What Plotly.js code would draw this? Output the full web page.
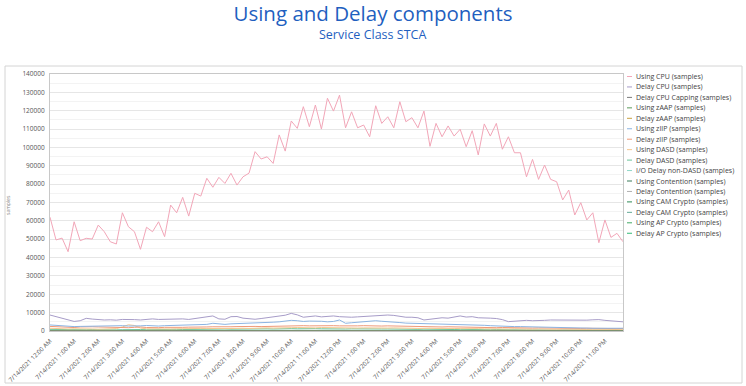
<!DOCTYPE html>
<html>
<head>
<meta charset="utf-8">
<script src="https://cdn.plot.ly/plotly-3.0.1.min.js"></script>
<style>html,body{margin:0;padding:0;background:#fff;}#chart{width:746px;height:386px;}</style>
</head>
<body>
<div id="chart"></div>
<script>
// ---- data (15-minute samples, 7/14/2021) ----
var seriesNames = [
  "Using CPU (samples)", "Delay CPU (samples)", "Delay CPU Capping (samples)",
  "Using zAAP (samples)", "Delay zAAP (samples)", "Using zIIP (samples)",
  "Delay zIIP (samples)", "Using DASD (samples)", "Delay DASD (samples)",
  "I/O Delay non-DASD (samples)", "Using Contention (samples)", "Delay Contention (samples)",
  "Using CAM Crypto (samples)", "Delay CAM Crypto (samples)", "Using AP Crypto (samples)",
  "Delay AP Crypto (samples)"
];
var seriesColors = [
  "#f2a6b8", "#a79cc8", "#7a7a7a", "#5a9a5a", "#c8a040", "#8cb4e2",
  "#f09a78", "#f4c890", "#6cc49a", "#90d8c8", "#3a7a5a", "#b0b0b0",
  "#2e8b57", "#66aa99", "#44aa66", "#33bb77"
];

var usingCPU = [
  62000, 49600, 50600, 43200, 59500, 49200, 50500, 50100,
  57700, 54100, 48600, 47400, 64400, 56800, 54100, 44500,
  56500, 54100, 59500, 51400, 68600, 64400, 72800, 62600,
  75000, 73500, 83200, 78300, 83700, 80400, 85900, 79500,
  84000, 86000, 97700, 93700, 94900, 91300, 106800, 98000,
  114400, 110400, 122200, 111300, 123100, 110000, 126800, 119800,
  128500, 110700, 119400, 110700, 112200, 105800, 122700, 113100,
  116700, 110700, 124900, 114000, 116200, 110700, 119800, 100600,
  113100, 105800, 111700, 106200, 109900, 100400, 109100, 95900,
  112800, 106200, 113100, 99000, 105800, 97100, 97100, 84000,
  93500, 82600, 90400, 82600, 81300, 71400, 76800, 63200,
  69900, 60500, 64400, 48100, 60500, 51000, 53200, 48600
];
var delayCPU = [
  8700, 7800, 6900, 6200, 5200, 5600, 6900, 6500,
  6200, 6000, 6100, 5900, 6300, 6400, 6200, 6000,
  6400, 6600, 6300, 6400, 6200, 6500, 6600, 6300,
  6800, 7200, 7500, 8200, 6600, 6400, 7800, 7900,
  7000, 6500, 6400, 6800, 7200, 7600, 8000, 8600,
  9600, 8800, 7500, 7900, 8200, 7700, 8000, 8200,
  7800, 7600, 7500, 7700, 7900, 8200, 8000, 8300,
  8700, 8500, 7800, 7500, 7500, 7200, 6000, 6500,
  6800, 7200, 7000, 7400, 8200, 7600, 7800, 7200,
  6900, 7000, 6800, 6200, 5100, 5400, 5600, 5800,
  5600, 5500, 5800, 6000, 6000, 5800, 5600, 5700,
  6000, 5900, 6100, 6200, 5800, 5600, 5200, 5000
];
var usingZIIP = [
  3300, 3000, 2600, 2400, 2400, 2500, 2600, 2500,
  2500, 2600, 2700, 2800, 2900, 2700, 2600, 2800,
  3000, 2800, 2700, 2900, 3000, 3100, 3000, 3200,
  3300, 3400, 3600, 4200, 3800, 3600, 3900, 4000,
  4100, 4000, 4300, 4500, 4600, 4800, 5000, 5300,
  5800, 5600, 5200, 5400, 5500, 5300, 5000, 5200,
  6000, 4200, 4500, 4700, 5000, 5400, 5600, 5300,
  5200, 5000, 4600, 4300, 4200, 4400, 4000, 3900,
  4100, 3800, 3600, 3700, 3800, 3700, 3500, 3300,
  3100, 2900, 2700, 2600, 2500, 2400, 2400, 2300,
  2200, 2100, 2000, 1900, 1800, 1700, 1700, 1600,
  1600, 1500, 1500, 1500, 1500, 1400, 1400, 1500
];
var delayZIIP = [
  2500, 2300, 2100, 2000, 1900, 2200, 2400, 2300,
  2200, 2100, 2300, 2200, 2000, 1800, 2000, 2200,
  1900, 1700, 1800, 2000, 1900, 1800, 2000, 2100,
  2000, 2100, 2200, 2300, 2200, 2100, 2300, 2400,
  2300, 2400, 2500, 2400, 2500, 2600, 2700, 2800,
  3000, 3100, 2900, 2800, 2900, 2800, 2700, 2900,
  2800, 2700, 2600, 2800, 2900, 2700, 2600, 2700,
  2800, 2700, 2600, 2500, 2600, 2400, 2300, 2400,
  2300, 2200, 2300, 2200, 2100, 2200, 2000, 1900,
  2000, 1900, 1800, 1900, 1800, 1700, 1800, 1700,
  1600, 1700, 1600, 1500, 1600, 1500, 1400, 1500,
  1400, 1500, 1400, 1300, 1400, 1300, 1300, 1400
];
var usingDASD = [
  1500, 1300, 1200, 1100, 1200, 1300, 1200, 1100,
  1000, 1200, 1400, 1300, 2200, 3400, 3000, 1600,
  1200, 1100, 1300, 1200, 1100, 1200, 1300, 1200,
  1300, 1400, 1300, 1500, 1400, 1300, 1500, 1600,
  1500, 1400, 1600, 1500, 1700, 1600, 1800, 1700,
  1800, 1900, 1700, 1800, 1700, 1900, 1800, 1700,
  1600, 1800, 1700, 1600, 1700, 1600, 1800, 1700,
  1600, 1700, 1500, 1600, 1500, 1400, 1600, 1500,
  1400, 1500, 1300, 1400, 1300, 1400, 1200, 1300,
  1200, 1100, 1300, 1200, 1100, 1200, 1000, 1100,
  1000, 1100, 900, 1000, 900, 1000, 900, 800,
  900, 800, 900, 800, 800, 900, 800, 900
];
var delayDASD = [
  900, 800, 700, 800, 700, 600, 700, 800,
  700, 800, 700, 600, 700, 800, 900, 800,
  700, 800, 700, 800, 800, 900, 800, 900,
  900, 1000, 900, 1000, 1000, 1100, 1000, 1100,
  1100, 1000, 1200, 1100, 1200, 1100, 1300, 1200,
  1300, 1200, 1300, 1200, 1300, 1200, 1100, 1200,
  1200, 1100, 1200, 1100, 1200, 1100, 1200, 1100,
  1100, 1000, 1100, 1000, 1000, 900, 1000, 900,
  900, 1000, 900, 800, 900, 800, 900, 800,
  800, 700, 800, 700, 700, 600, 700, 600,
  600, 500, 600, 500, 500, 600, 500, 500,
  500, 400, 500, 400, 400, 500, 400, 400
];
var ioDelayNonDASD = [
  400, 300, 400, 300, 300, 400, 300, 300,
  300, 400, 300, 400, 300, 300, 400, 300,
  400, 300, 400, 400, 300, 400, 400, 300,
  400, 500, 400, 500, 500, 400, 500, 500,
  500, 600, 500, 600, 600, 500, 600, 600,
  700, 600, 700, 600, 600, 700, 600, 600,
  600, 700, 600, 600, 700, 600, 600, 700,
  600, 600, 500, 600, 500, 500, 600, 500,
  500, 500, 400, 500, 400, 500, 400, 400,
  400, 400, 300, 400, 300, 300, 400, 300,
  300, 300, 300, 200, 300, 300, 200, 300,
  200, 300, 200, 200, 300, 200, 200, 300
];
var zeroSeries = [
  0, 0, 0, 0, 0, 0, 0, 0, 0, 0, 0, 0, 0, 0, 0, 0,
  0, 0, 0, 0, 0, 0, 0, 0, 0, 0, 0, 0, 0, 0, 0, 0,
  0, 0, 0, 0, 0, 0, 0, 0, 0, 0, 0, 0, 0, 0, 0, 0,
  0, 0, 0, 0, 0, 0, 0, 0, 0, 0, 0, 0, 0, 0, 0, 0,
  0, 0, 0, 0, 0, 0, 0, 0, 0, 0, 0, 0, 0, 0, 0, 0,
  0, 0, 0, 0, 0, 0, 0, 0, 0, 0, 0, 0, 0, 0, 0, 0
];
var usingContention = [
  200, 200, 100, 200, 100, 100, 200, 100,
  100, 200, 100, 100, 200, 100, 100, 200,
  100, 200, 100, 100, 200, 100, 200, 200,
  200, 200, 300, 200, 300, 200, 300, 300,
  300, 200, 300, 300, 300, 400, 300, 300,
  400, 300, 300, 400, 300, 300, 400, 300,
  300, 300, 400, 300, 300, 300, 300, 300,
  300, 300, 300, 200, 300, 300, 200, 300,
  200, 300, 200, 200, 200, 200, 200, 200,
  200, 200, 100, 200, 200, 100, 200, 100,
  100, 200, 100, 100, 100, 100, 100, 100,
  100, 100, 100, 100, 100, 100, 100, 100
];

var seriesValues = [
  usingCPU, delayCPU, zeroSeries, zeroSeries, zeroSeries, usingZIIP,
  delayZIIP, usingDASD, delayDASD, ioDelayNonDASD, usingContention, zeroSeries,
  zeroSeries, zeroSeries, zeroSeries, zeroSeries
];

// sample timestamps: every 15 minutes over the day
var times = [];
for (var i = 0; i < usingCPU.length; i++) {
  var mins = i * 15;
  var hh = String(Math.floor(mins / 60)).padStart(2, "0");
  var mm = String(mins % 60).padStart(2, "0");
  times.push("2021-07-14 " + hh + ":" + mm);
}

var traces = [];
for (var s = seriesNames.length - 1; s >= 0; s--) {
  traces.push({
    type: "scatter", mode: "lines", name: seriesNames[s],
    x: times, y: seriesValues[s],
    line: {color: seriesColors[s], width: 1},
    showlegend: false, hoverinfo: "skip"
  });
}

// plot area pixel geometry
var L = 50, R = 623, T = 74, B = 331, W = 746, H = 386;
var pw = R - L, ph = B - T;
function px(x) { return (x - L) / pw; }
function py(y) { return (B - y) / ph; }

var shapes = [{
  type: "rect", xref: "paper", yref: "paper",
  x0: px(5), x1: px(742), y0: py(383), y1: py(66),
  line: {color: "#d4d4d4", width: 1}, fillcolor: "rgba(0,0,0,0)", layer: "below"
}];
var annotations = [{
  xref: "paper", yref: "paper", x: 0.5 * (px(0) + px(746)), y: py(34),
  xanchor: "center", yanchor: "middle", showarrow: false,
  text: "Service Class STCA",
  font: {family: "Open Sans, sans-serif", size: 12.5, color: "#1f5fbf"}
}, {
  xref: "paper", yref: "paper", x: px(8), y: py(205),
  xanchor: "center", yanchor: "middle", showarrow: false, textangle: -90,
  text: "samples", font: {family: "Open Sans, sans-serif", size: 5, color: "#888"}
}];
for (var k = 0; k < seriesNames.length; k++) {
  var yy = 76.5 + 10.45 * k;
  shapes.push({
    type: "line", xref: "paper", yref: "paper",
    x0: px(627), x1: px(632), y0: py(yy), y1: py(yy),
    line: {color: seriesColors[k], width: 1}
  });
  annotations.push({
    xref: "paper", yref: "paper", x: px(634), y: py(yy),
    xanchor: "left", yanchor: "middle", showarrow: false,
    text: seriesNames[k],
    font: {family: "Open Sans, sans-serif", size: 7, color: "#444"}
  });
}

var layout = {
  width: W, height: H,
  margin: {l: L, r: W - R, t: T, b: H - B, pad: 0},
  paper_bgcolor: "#ffffff", plot_bgcolor: "#ffffff",
  title: {
    text: "Using and Delay components",
    font: {family: "Open Sans, sans-serif", size: 20.5, color: "#1f5fbf"},
    x: 0.5, xref: "container", xanchor: "center",
    y: 1 - 14 / H, yref: "container", yanchor: "middle"
  },
  xaxis: {
    type: "date",
    range: [times[0], times[times.length - 1]],
    dtick: 3600000, tick0: "2021-07-14 00:00",
    tickformat: "%-m/%-d/%Y %-I:%M %p", tickangle: -45,
    tickfont: {family: "Open Sans, sans-serif", size: 6.2, color: "#555"},
    showgrid: false, showline: true, linecolor: "#c8c8c8", mirror: true,
    ticks: "outside", ticklen: 3, tickcolor: "#ffffff", zeroline: false
  },
  yaxis: {
    range: [0, 140000], dtick: 10000, tickformat: "d",
    tickfont: {family: "Open Sans, sans-serif", size: 6.5, color: "#555"},
    showgrid: true, gridcolor: "#e6e6e6", gridwidth: 1,
    minor: {dtick: 5000, showgrid: true, gridcolor: "#f3f3f3"},
    showline: true, linecolor: "#c8c8c8", mirror: true,
    ticks: "outside", ticklen: 3, tickcolor: "#ffffff", zeroline: false
  },
  shapes: shapes,
  annotations: annotations,
  showlegend: false
};

Plotly.newPlot("chart", traces, layout, {displayModeBar: false, staticPlot: true});
</script>
</body>
</html>
